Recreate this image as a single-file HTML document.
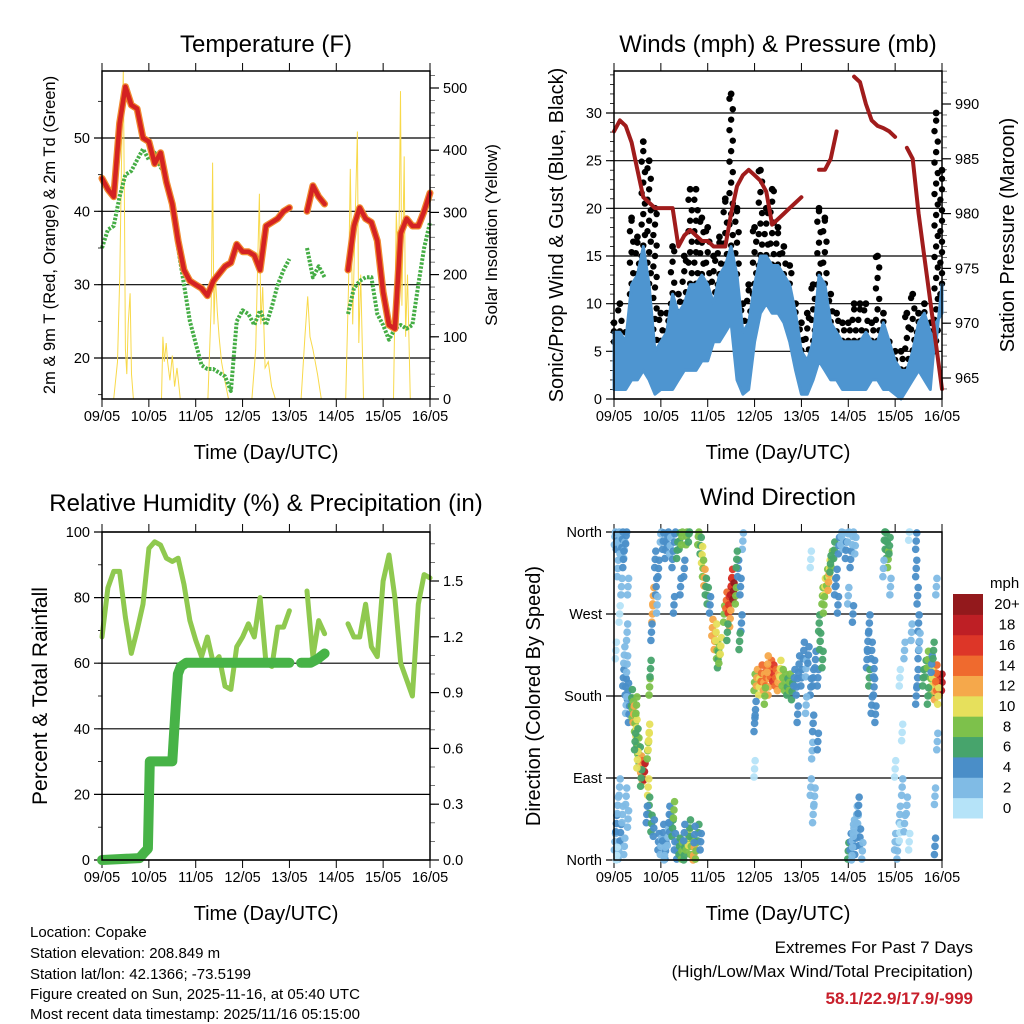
<!DOCTYPE html>
<html><head><meta charset="utf-8"><style>
html,body{margin:0;padding:0;background:#fff;}
svg{display:block;font-family:"Liberation Sans",sans-serif;}
</style></head><body>
<svg id="chart" width="1024" height="1024" viewBox="0 0 1024 1024" xmlns="http://www.w3.org/2000/svg">
<rect width="1024" height="1024" fill="#fff"/>
<text x="266" y="52" font-size="24" text-anchor="middle">Temperature (F)</text>
<text x="778" y="52" font-size="24" text-anchor="middle">Winds (mph) &amp; Pressure (mb)</text>
<text x="266" y="511" font-size="24" text-anchor="middle">Relative Humidity (%) &amp; Precipitation (in)</text>
<text x="778" y="505" font-size="24" text-anchor="middle">Wind Direction</text>
<text x="266" y="459" font-size="20" text-anchor="middle">Time (Day/UTC)</text>
<text x="778" y="459" font-size="20" text-anchor="middle">Time (Day/UTC)</text>
<text x="266" y="920" font-size="20" text-anchor="middle">Time (Day/UTC)</text>
<text x="778" y="920" font-size="20" text-anchor="middle">Time (Day/UTC)</text>
<text transform="translate(55,235) rotate(-90)" font-size="16.5" text-anchor="middle">2m &amp; 9m T (Red, Orange) &amp; 2m Td (Green)</text>
<text transform="translate(497,235) rotate(-90)" font-size="17" text-anchor="middle">Solar Insolation (Yellow)</text>
<text transform="translate(563,235) rotate(-90)" font-size="20" text-anchor="middle">Sonic/Prop Wind &amp; Gust (Blue, Black)</text>
<text transform="translate(1014,235) rotate(-90)" font-size="20" text-anchor="middle">Station Pressure (Maroon)</text>
<text transform="translate(47,696) rotate(-90)" font-size="21" text-anchor="middle">Percent &amp; Total Rainfall</text>
<text transform="translate(540,696) rotate(-90)" font-size="20" text-anchor="middle">Direction (Colored By Speed)</text>
<g font-size="15">
<text x="30" y="937">Location: Copake</text>
<text x="30" y="958">Station elevation: 208.849 m</text>
<text x="30" y="979">Station lat/lon: 42.1366; -73.5199</text>
<text x="30" y="999">Figure created on Sun, 2025-11-16, at 05:40 UTC</text>
<text x="30" y="1019">Most recent data timestamp: 2025/11/16 05:15:00</text>
</g>
<text x="973" y="953" font-size="17" text-anchor="end">Extremes For Past 7 Days</text>
<text x="973" y="977" font-size="17" text-anchor="end">(High/Low/Max Wind/Total Precipitation)</text>
<text x="973" y="1004" font-size="17" font-weight="bold" fill="#c8202c" text-anchor="end">58.1/22.9/17.9/-999</text>
</svg>
<script>
// ---------- data ----------
const dayLabels = ["09/05","10/05","11/05","12/05","13/05","14/05","15/05","16/05"];
const times = Array.from({length:57},(_,i)=>i/8);
const tempT = [44.5,43,42,52,57,54.5,54,50,49.5,46.5,48,44,41,36,32,30.5,30,29.5,28.5,30.5,31.5,32.5,33,35.5,34.5,34.5,34,32,38,38.5,39,40,40.5,null,null,40,43.5,42,41,null,null,null,32,38,40.5,39,38.5,36,29,24.5,24,37,39,38,38,40,42.5];
const tempTd = [35,37.5,38,42,45,45.5,47,48.5,47,48,46,45,40,35,30,25,22,19,18.5,18.5,18,17.5,15.5,25,26.5,26,24.5,26.5,24.5,27,30,32,33.5,null,null,35,31,32.5,31,null,null,null,26,29.5,30.5,31,31,26,24.5,22.5,24,24.5,24,24.5,30,35,38.5];
const solarT = [0,0.25,0.33,0.38,0.42,0.455,0.48,0.5,0.53,0.56,0.6,0.63,0.67,1.27,1.3,1.33,1.37,1.4,1.45,1.5,1.55,1.6,1.67,2.26,2.33,2.36,2.39,2.42,2.46,2.5,2.55,2.62,2.7,3.2,3.28,3.33,3.36,3.39,3.43,3.48,3.55,3.62,3.7,4.25,4.33,4.39,4.44,4.5,4.55,4.6,4.68,5.2,5.26,5.3,5.35,5.4,5.45,5.48,5.52,5.58,6.22,6.28,6.33,6.37,6.4,6.45,6.48,6.52,6.58,7];
const solarV = [0,0,60,200,400,527,300,80,40,120,170,40,0,0,100,60,90,60,30,70,20,50,0,0,150,380,120,200,140,100,60,30,0,0,80,240,330,120,180,50,60,20,0,0,100,165,100,80,60,40,0,0,180,370,120,280,430,90,200,0,0,300,200,495,150,390,100,200,0,0];
const windLo = [1,1,1,2,2,3,2,0.5,1,1,1,2,3,3,3,4,4,6,6,7,8,2,0.5,1,6,9,10,9,9,8,6,3,0.5,0.5,2,4,3,2,2,1,1,1,1,1,2,2,1,1,0.5,0,1,2,3,2,1,8,9];
const windHi = [7,7,6,12,13,16,12,5,6,7,11,9,10,12,12,13,12,10,13,14,16,13,7,8,12,15,15,14,14,13,12,9,5,4,6,13,12,8,7,6,6,6,6,7,6,6,8,6,4,3,3,5,8,9,7,6,12,16].slice(0,57);
const windGust = [8,10,7,19,17,27,25,20,9,9,16,11,15,22,22,19,18,15,17,21,32,20,10,12,18,24,20,22,18,16,14,10,8,9,12,20,19,11,9,8,8,10,10,10,8,15,9,6,5,5,9,11,9,10,8,30,24];
const pressure = [987.5,988.5,988,986.5,984,981.5,981,980.5,980.5,980.5,980.5,977,978,978.5,978,977.5,977.5,977,977,977,980,982.5,983.5,984,983.5,983,982,979,979.5,980,980.5,981,981.5,null,null,984,984,985,987.5,null,null,992.5,992,990,988.5,988,987.8,987.5,987,null,986,985,980,976,972,968,964];
const rhValues = [68,83,88,88,74,63,70,78,95,97,96,92,91,92,84,73,67,62,68,60,62,53,52,65,68,72,68,80,60,59,71,71,76,null,null,82,62,73,69,null,null,null,72,68,68,78,65,62,85,93,80,60,55,50,78,87,86];
const rainT = [0,0.8,0.9,0.98,1.02,1.1,1.5,1.58,1.62,1.68,1.8,4.0,null,4.25,4.45,4.6,4.75];
const rainIn = [0,0.01,0.04,0.06,0.53,0.53,0.53,0.85,1.0,1.04,1.06,1.06,null,1.06,1.06,1.08,1.11];
const dirT = [0.02,0.06,0.1,0.14,0.18,0.22,0.26,0.08,0.16,0.2,0.3,0.12,0.28,0.04,
0.02,0.05,0.08,0.1,0.14,0.18,0.22,0.26,0.06,0.3,0.12,
0.2,0.25,0.28,0.3,0.22,0.26,0.32,
0.38,0.4,0.42,0.45,0.48,0.5,0.52,0.55,0.58,0.6,0.62,0.65,0.58,0.5,0.45,0.48,
0.72,0.74,0.75,0.76,0.78,0.73,0.75,0.7,0.8,0.85,0.82,0.84,0.8,0.9,0.92,0.95,0.88,
0.95,1.0,1.05,1.1,1.15,1.2,1.25,1.3,1.35,1.08,1.18,1.28,
1.0,1.05,1.1,1.15,1.2,1.25,1.3,1.35,1.4,1.45,1.5,1.42,1.55,1.6,1.28,
1.4,1.45,1.5,1.55,1.6,1.65,1.7,1.75,1.8,1.85,1.62,1.72,1.5,
1.8,1.85,1.88,1.9,1.93,1.96,2.0,2.05,2.1,2.15,2.2,2.22,2.25,2.18,2.28,
2.35,2.4,2.45,2.5,2.52,2.55,2.48,2.42,2.6,2.65,2.7,2.72,2.68,2.75,2.62,
3.0,3.05,3.1,3.15,3.2,3.25,3.3,3.35,3.4,3.45,3.5,3.55,3.6,3.65,3.7,3.75,3.8,3.02,3.0,3.0,3.28,3.22,
3.85,3.9,3.95,4.0,4.05,4.1,4.15,4.2,4.25,4.3,4.35,4.4,4.45,4.38,3.92,4.25,4.23,4.2,4.25,4.28,4.35,4.1,4.2,
4.45,4.5,4.55,4.6,4.65,4.7,4.48,4.58,4.62,4.75,4.8,4.85,4.9,4.95,5.0,5.05,5.1,5.15,4.78,4.72,5.0,5.1,
5.0,5.05,5.1,5.15,5.2,5.25,5.08,5.18,5.3,5.22,5.12,
5.4,5.45,5.5,5.55,5.5,5.58,5.45,5.42,5.55,
5.8,5.82,5.85,5.78,5.88,5.75,5.9,
6.0,6.05,6.1,6.15,6.1,6.2,6.25,6.3,6.0,6.15,6.2,6.1,6.3,6.35,
6.45,6.45,6.48,6.5,6.5,6.48,6.45,6.52,
6.6,6.65,6.7,6.75,6.8,6.85,6.9,6.95,7.0,6.92,6.88,6.78,6.82,6.7,6.85,6.85,6.88,6.9];
const dirDeg = [355,350,358,345,352,340,356,320,300,330,300,270,250,230,
20,40,60,10,30,50,15,70,5,45,80,
200,190,215,185,225,170,160,
178,165,160,150,145,135,125,115,105,100,95,97,90,110,130,170,
120,130,140,190,210,80,60,50,40,35,270,290,250,300,280,320,330,
20,15,30,10,25,40,35,20,10,5,50,55,
358,350,340,355,345,330,358,340,350,355,320,300,355,358,280,
15,10,5,20,25,15,5,10,30,20,35,28,30,
355,345,335,320,310,300,290,280,255,240,230,220,225,250,235,
270,285,280,300,310,295,265,250,290,320,300,260,240,350,330,
195,200,190,205,195,200,190,210,205,200,195,210,200,195,190,195,185,165,150,100,215,180,
200,190,215,200,230,210,225,190,200,220,200,240,220,260,160,150,120,80,50,70,130,170,330,
290,300,310,320,330,340,280,305,325,310,345,355,350,340,358,330,355,345,280,300,290,270,
10,20,30,15,40,25,5,50,10,60,35,
220,200,230,190,170,160,260,240,210,
350,340,330,360,345,320,300,
20,10,50,80,30,40,60,20,100,140,230,200,360,250,
350,320,290,260,230,200,180,240,
200,210,220,190,200,185,195,190,195,180,205,215,230,180,15,70,300,130];
const dirSpd = [3,4,2,3,4,2,4,3,2,4,2,1,2,1,
3,4,3,2,4,2,3,2,1,3,3,
4,4,3,4,3,2,4,
6,8,12,8,10,6,8,6,12,14,12,18,6,10,6,8,
8,10,10,8,6,10,6,4,6,4,12,12,4,4,2,4,4,
4,2,4,4,2,4,6,4,4,2,4,8,
2,4,4,4,2,4,4,6,6,8,4,4,8,6,4,
6,8,6,8,10,8,12,8,6,4,6,4,4,
8,6,10,8,12,6,6,4,12,12,8,6,8,10,10,
8,14,16,18,16,20,12,6,8,4,4,4,6,2,6,
8,12,10,14,12,14,12,14,16,14,12,10,8,8,6,8,6,4,4,1,12,8,
4,4,4,4,4,2,4,4,4,4,4,6,6,6,4,4,2,2,2,2,4,2,1,
8,10,8,10,8,6,8,12,6,4,4,2,2,4,2,4,2,2,4,4,2,4,
6,4,2,4,2,4,2,2,2,4,2,
4,6,4,4,4,4,4,4,4,
6,6,8,6,6,2,2,
2,2,2,2,1,2,2,1,1,1,2,1,1,2,
4,4,4,4,4,4,4,2,
6,6,8,8,10,12,14,16,18,10,14,4,6,6,4,2,2,2];
const speedColors = ["#b5e3f8","#80bbe5","#4a8ec8","#47a46c","#7dc14b","#e6e05c","#f5a84b","#ef6a2e","#dd3628","#be1f25","#93191c"];
const speedLabels = ["0","2","4","6","8","10","12","14","16","18","20+"];
const tempTicks = [20,30,40,50];
const solarTicks = [0,100,200,300,400,500];
const windTicks = [0,5,10,15,20,25,30];
const pressTicks = [965,970,975,980,985,990];
const rhTicks = [0,20,40,60,80,100];
const rainTicks = [0,0.3,0.6,0.9,1.2,1.5];
const rainTickLabels = ["0.0","0.3","0.6","0.9","1.2","1.5"];
const dirTicks = [0,90,180,270,360];
const dirLabels = ["North","East","South","West","North"];

// ---------- helpers ----------
const NS = "http://www.w3.org/2000/svg";
const svg = document.getElementById("chart");
function mk(tag, attrs, parent){
  const e = document.createElementNS(NS, tag);
  for (const k in attrs) e.setAttribute(k, attrs[k]);
  (parent||svg).appendChild(e);
  return e;
}
function pathD(ts, vs, xf, yf){
  let d = "", pen = false;
  for (let i=0;i<ts.length;i++){
    if (vs[i]===null || ts[i]===null){ pen=false; continue; }
    d += (pen?"L":"M") + xf(ts[i]).toFixed(1) + " " + yf(vs[i]).toFixed(1) + " ";
    pen = true;
  }
  return d;
}
function linear(d0,d1,r0,r1){ return v => r0 + (v-d0)/(d1-d0)*(r1-r0); }

const P = {L:{x0:102,x1:430}, R:{x0:614,x1:942}, T:{y0:71,y1:399}, B:{y0:532,y1:860}};

function frameAndXAxis(px, py, prefix){
  const xs = linear(0,7,px.x0,px.x1);
  const g = mk("g",{});
  
  
  for (let i=0;i<dayLabels.length;i++){
    const x = xs(i);
    const t1 = mk("line",{x1:x,x2:x,y1:py.y0-8,y2:py.y0,stroke:"#000","stroke-width":1},g);
    
    
    const t2 = mk("line",{x1:x,x2:x,y1:py.y1,y2:py.y1+8,stroke:"#000","stroke-width":1},g);
    
    
    const lb = mk("text",{x:x,y:py.y1+22,"font-size":14.5,"text-anchor":"middle"},g);
    lb.textContent = dayLabels[i];
    
    
  }
  return xs;
}
function grid(px, ys, ticks, labels, name){
  const g = mk("g",{});
  
  
  ticks.forEach((v,i)=>{
    const y = ys(v);
    const l = mk("line",{x1:px.x0-8,x2:px.x1,y1:y,y2:y,stroke:"#000","stroke-width":1.2},g);
    
    
    const t = mk("text",{x:px.x0-12,y:y+5,"font-size":14.5,"text-anchor":"end"},g);
    t.textContent = labels ? labels[i] : String(v);
    
    
  });
}
function minorLeft(px, ys, from, to, step){
  for (let v=from; v<=to+1e-9; v+=step){
    const y = ys(v);
    const m = mk("line",{x1:px.x0-4,x2:px.x0,y1:y,y2:y,stroke:"#000","stroke-width":0.8});
    
    
  }
}
function rightAxis(px, ys, ticks, labels, minorFrom, minorTo, minorStep, name){
  const g = mk("g",{});
  
  
  for (let v=minorFrom; v<=minorTo+1e-9; v+=minorStep){
    const y = ys(v);
    const m = mk("line",{x1:px.x1,x2:px.x1+5,y1:y,y2:y,stroke:"#555","stroke-width":0.8},g);
    
    
  }
  ticks.forEach((v,i)=>{
    const y = ys(v);
    const t = mk("line",{x1:px.x1,x2:px.x1+9,y1:y,y2:y,stroke:"#000","stroke-width":1.2},g);
    
    
    const l = mk("text",{x:px.x1+13,y:y+5,"font-size":14.5},g);
    l.textContent = labels ? labels[i] : String(v);
    
    
  });
}
function border(px, py, name){
  const r = mk("rect",{x:px.x0,y:py.y0,width:px.x1-px.x0,height:py.y1-py.y0,fill:"none",stroke:"#000","stroke-width":1.5});
  
  
}

// ---------- Temperature panel ----------
{
  const xs = frameAndXAxis(P.L, P.T, "temp");
  const ys = linear(20,50,358,138);
  const ss = linear(0,500,399,88);
  grid(P.L, ys, tempTicks, null, "temp-grid");
  minorLeft(P.L, ys, 15, 59, 5);
  rightAxis(P.L, ss, solarTicks, null, 0, 520, 20, "solar-axis");
  const sol = mk("path",{d:pathD(solarT,solarV,xs,ss),fill:"none",stroke:"#f8d94a","stroke-width":1});
  
  
  const td = mk("path",{d:pathD(times,tempTd,xs,ys),fill:"none",stroke:"#45ad45","stroke-width":4,"stroke-dasharray":"2.5 1.5","stroke-linejoin":"round"});
  
  
  const t9 = mk("path",{d:pathD(times,tempT,xs,ys),fill:"none",stroke:"#f08a30","stroke-width":7,"stroke-linejoin":"round","stroke-linecap":"round"});
  
  
  const t2 = mk("path",{d:pathD(times,tempT,xs,ys),fill:"none",stroke:"#d42222","stroke-width":4.5,"stroke-linejoin":"round","stroke-linecap":"round"});
  
  
  border(P.L, P.T, "temp-plot-frame");
}

// ---------- Winds panel ----------
{
  const xs = frameAndXAxis(P.R, P.T, "wind");
  const ys = linear(0,30,399,113);
  const ps = linear(965,990,378,104);
  grid(P.R, ys, windTicks, null, "wind-grid");
  minorLeft(P.R, ys, 0, 34, 1);
  rightAxis(P.R, ps, pressTicks, null, 964, 993, 1, "pressure-axis");
  const gg = mk("g",{});
  
  
  for (let i=0;i<times.length;i++){
    let k = 0;
    for (let v = windHi[i]-1; v <= windGust[i]; v += 1.1){
      const off = ((k%3)-1)*0.035;
      const c = mk("circle",{cx:xs(Math.min(7,Math.max(0,times[i]+off))),cy:ys(v),r:3.2,fill:"#000"},gg);
      
      
      k++;
    }
    const top = mk("circle",{cx:xs(times[i]),cy:ys(windGust[i]),r:3.4,fill:"#000"},gg);
    
    
  }
  let d = "";
  for (let i=0;i<times.length;i++) d += (i?"L":"M") + xs(times[i]).toFixed(1) + " " + ys(windHi[i]).toFixed(1) + " ";
  for (let i=times.length-1;i>=0;i--) d += "L" + xs(times[i]).toFixed(1) + " " + ys(windLo[i]).toFixed(1) + " ";
  const band = mk("path",{d:d+"Z",fill:"#4e95d0",stroke:"#4e95d0","stroke-width":3,"stroke-linejoin":"round"});
  
  
  const pr = mk("path",{d:pathD(times,pressure,xs,ps),fill:"none",stroke:"#a01c1c","stroke-width":4,"stroke-linejoin":"round","stroke-linecap":"round"});
  
  
  border(P.R, P.T, "wind-plot-frame");
}

// ---------- RH panel ----------
{
  const xs = frameAndXAxis(P.L, P.B, "rh");
  const ys = linear(0,100,860,532);
  const rs = linear(0,1.5,860,581);
  grid(P.L, ys, rhTicks, null, "rh-grid");
  minorLeft(P.L, ys, 0, 100, 10);
  rightAxis(P.L, rs, rainTicks, rainTickLabels, 0, 1.75, 0.1, "rain-axis");
  const rh = mk("path",{d:pathD(times,rhValues,xs,ys),fill:"none",stroke:"#8fc94f","stroke-width":5,"stroke-linejoin":"round","stroke-linecap":"round"});
  
  
  const rn = mk("path",{d:pathD(rainT,rainIn,xs,rs),fill:"none",stroke:"#47b347","stroke-width":10,"stroke-linejoin":"round","stroke-linecap":"round"});
  
  
  border(P.L, P.B, "rh-plot-frame");
}

// ---------- Wind direction panel ----------
{
  const xs = frameAndXAxis(P.R, P.B, "dir");
  const ys = linear(0,360,860,532);
  grid(P.R, ys, dirTicks, dirLabels, "dir-grid");
  const gp = mk("g",{});
  
  
  const spread = [[-0.012,-9],[0,0],[0.012,9]];
  for (let i=0;i<dirT.length;i++){
    const idx = Math.min(10, Math.floor(dirSpd[i]/2));
    for (const s of spread){
      const dv = Math.max(0, Math.min(360, dirDeg[i]+s[1]));
      const tv = Math.max(0, Math.min(7, dirT[i]+s[0]));
      const c = mk("circle",{cx:xs(tv),cy:ys(dv),r:3.8,fill:speedColors[idx],"fill-opacity":0.95},gp);
      
      
    }
  }
  border(P.R, P.B, "dir-plot-frame");
  const lg = mk("g",{});
  
  
  const lt = mk("text",{x:990,y:588,"font-size":15},lg);
  lt.textContent = "mph";
  
  
  const bh = 224/11;
  for (let i=0;i<speedColors.length;i++){
    const y = 818 - (i+1)*bh;
    const r = mk("rect",{x:953,y:y,width:30,height:bh+0.5,fill:speedColors[i]},lg);
    
    
    const t = mk("text",{x:1007,y:y+bh/2+5,"font-size":15,"text-anchor":"middle"},lg);
    t.textContent = speedLabels[i];
    
    
  }
}
</script>
</body></html>
